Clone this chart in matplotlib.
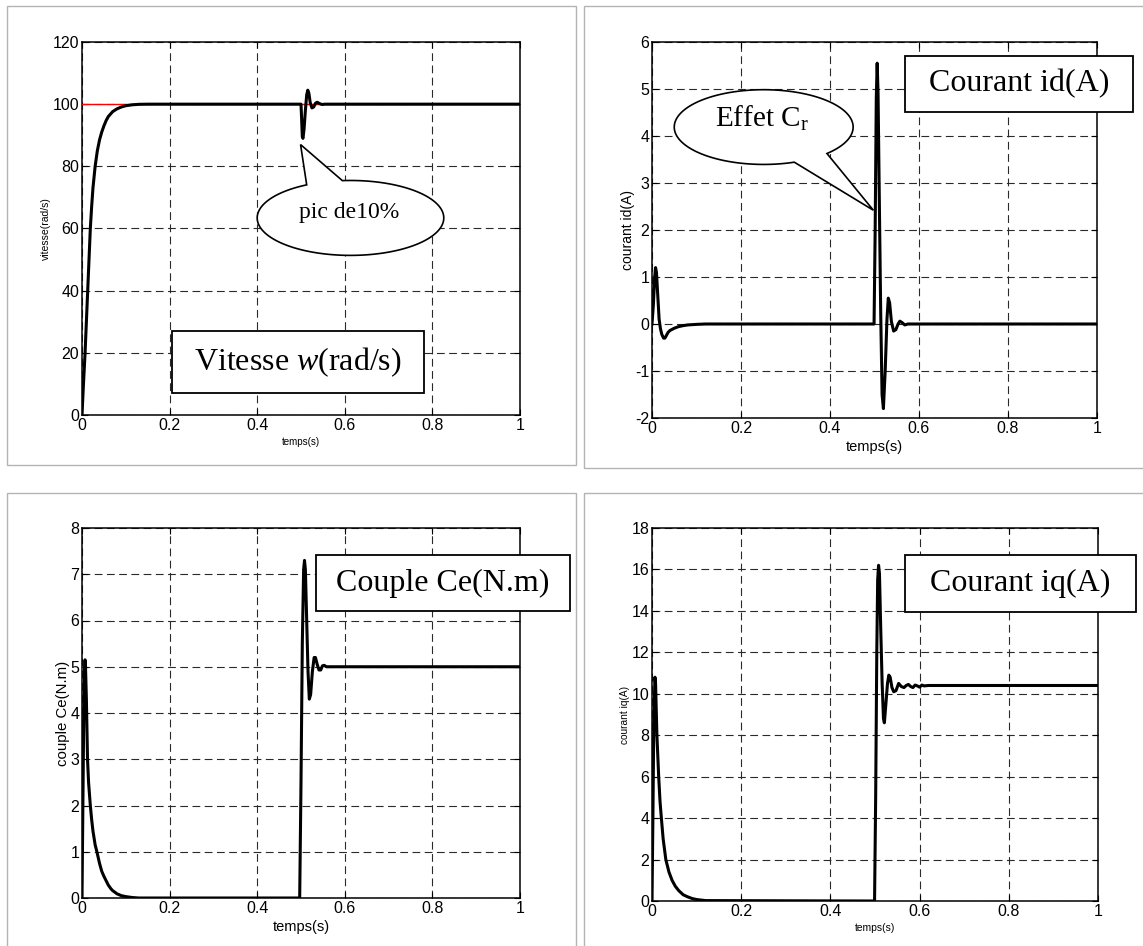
import numpy as np
import matplotlib
matplotlib.use("Agg")
import matplotlib.pyplot as plt
from matplotlib.patches import Rectangle, Polygon

plt.rcParams['font.family'] = ['Liberation Sans', 'DejaVu Sans']
plt.rcParams['mathtext.fontset'] = 'custom'
plt.rcParams['mathtext.rm'] = 'Liberation Serif'
plt.rcParams['mathtext.it'] = 'Liberation Serif:italic'

# simulation results (time in s)
t_w = [0, 0.003, 0.007, 0.010, 0.013, 0.016, 0.019, 0.022, 0.025, 0.03, 0.035,
       0.04, 0.045, 0.05, 0.055, 0.06, 0.07, 0.08, 0.09, 0.1, 0.115, 0.13, 0.15,
       0.5, 0.5015, 0.503, 0.5045, 0.507, 0.51, 0.513, 0.5155, 0.518, 0.521,
       0.525, 0.529, 0.533, 0.537, 0.542, 0.548, 0.555, 1.0]
vitesse = [0, 9, 20, 30, 40, 50, 60, 67, 73, 80, 85, 88.5, 91, 93, 94.7, 96,
           97.6, 98.5, 99.1, 99.5, 99.8, 99.95, 100, 100, 95, 89.5, 89, 92, 98,
           103, 104.5, 103.5, 100.5, 98.8, 99.1, 100.3, 100.6, 100.2, 99.9, 100, 100]
t_ref = [0, 1.0]
vitesse_ref = [100, 100]

t_id = [0, 0.003, 0.006, 0.008, 0.010, 0.013, 0.016, 0.019, 0.022, 0.026, 0.029,
        0.032, 0.036, 0.04, 0.05, 0.06, 0.07, 0.08, 0.1, 0.12, 0.499, 0.5015,
        0.504, 0.506, 0.508, 0.511, 0.514, 0.517, 0.520, 0.524, 0.528, 0.531,
        0.534, 0.538, 0.543, 0.548, 0.553, 0.557, 0.562, 0.568, 0.575, 1.0]
courant_id = [0, 0.4, 1.0, 1.2, 1.1, 0.6, 0.1, -0.1, -0.22, -0.3, -0.3, -0.25,
              -0.18, -0.14, -0.09, -0.055, -0.035, -0.02, -0.008, 0, 0, 2.0, 4.8,
              5.55, 4.9, 2.5, 0.2, -1.5, -1.8, -1.0, 0.1, 0.55, 0.45, 0.05, -0.15,
              -0.12, 0.0, 0.06, 0.03, -0.02, 0, 0]

t_ce = [0, 0.002, 0.004, 0.006, 0.007, 0.008, 0.010, 0.0126, 0.015, 0.019, 0.022,
        0.025, 0.03, 0.034, 0.04, 0.045, 0.05, 0.06, 0.066, 0.07, 0.08, 0.09, 0.1,
        0.115, 0.13, 0.497, 0.5, 0.503, 0.506, 0.508, 0.510, 0.513, 0.516, 0.519,
        0.522, 0.526, 0.530, 0.533, 0.537, 0.541, 0.545, 0.549, 0.553, 0.558,
        0.565, 1.0]
couple = [0, 2.0, 4.0, 5.0, 5.15, 5.0, 4.3, 3.0, 2.5, 2.0, 1.7, 1.45, 1.15, 1.0,
          0.75, 0.58, 0.47, 0.28, 0.2, 0.16, 0.09, 0.05, 0.03, 0.01, 0, 0, 2.5,
          5.5, 7.1, 7.3, 7.1, 6.0, 4.9, 4.3, 4.4, 4.9, 5.2, 5.2, 5.05, 4.93, 4.93,
          5.02, 5.03, 5.0, 5.0, 5.0]

t_iq = [0, 0.002, 0.004, 0.0066, 0.008, 0.011, 0.015, 0.018, 0.021, 0.025, 0.031,
        0.038, 0.045, 0.052, 0.06, 0.07, 0.08, 0.09, 0.1, 0.12, 0.499, 0.5015,
        0.504, 0.506, 0.508, 0.510, 0.513, 0.516, 0.519, 0.521, 0.524, 0.528,
        0.531, 0.534, 0.538, 0.542, 0.547, 0.553, 0.559, 0.565, 0.57, 0.575, 0.58,
        0.585, 0.59, 0.595, 0.6, 0.605, 0.61, 0.62, 1.0]
courant_iq = [0, 4, 8.5, 10.8, 10.5, 8, 6, 4.8, 4, 3.0, 2.0, 1.4, 1.0, 0.72, 0.5,
              0.3, 0.2, 0.12, 0.07, 0.02, 0, 5, 12, 15.5, 16.2, 15.8, 13, 10.5,
              8.8, 8.6, 9.4, 10.5, 10.9, 10.8, 10.3, 10.1, 10.15, 10.5, 10.35,
              10.3, 10.4, 10.45, 10.35, 10.3, 10.42, 10.38, 10.32, 10.42, 10.38,
              10.4, 10.4]

x_ticks = [0, 0.2, 0.4, 0.6, 0.8, 1]
x_ticklabels = ["0", "0.2", "0.4", "0.6", "0.8", "1"]

W, H = 1143, 946
fig = plt.figure(figsize=(W / 100, H / 100), dpi=100)


def px_rect(x0, y0, x1, y1):
    # pixel box (top-left origin) -> figure fraction [l, b, w, h]
    return [x0 / W, 1 - y1 / H, (x1 - x0) / W, (y1 - y0) / H]


# grey frames around each plot
for (x0, y0, x1, y1) in [(7, 6, 576, 465), (584, 6, 1160, 468),
                         (7, 493, 576, 960), (584, 493, 1160, 960)]:
    l, b, w, h = px_rect(x0, y0, x1, y1)
    fig.add_artist(Rectangle((l, b), w, h, transform=fig.transFigure,
                             fill=False, edgecolor="#b4b4b4", linewidth=1.0))


def setup(ax, ylim, yticks, ylabel, ylabel_size, xlabel_size, ypad):
    ax.set_xlim(0, 1)
    ax.set_ylim(*ylim)
    ax.set_xticks(x_ticks)
    ax.set_xticklabels(x_ticklabels)
    ax.set_yticks(yticks)
    ax.set_yticklabels([str(v) for v in yticks])
    ax.tick_params(direction="in", length=4, width=0.8, top=True, right=True,
                   labelsize=11.5, pad=2)
    ax.grid(True, color="#2a2a2a", linestyle=(0, (7, 4)), linewidth=0.8)
    for s in ax.spines.values():
        s.set_linewidth(1.1)
    ax.set_ylabel(ylabel, fontsize=ylabel_size, labelpad=ypad)
    ax.set_xlabel("temps(s)", fontsize=xlabel_size, labelpad=3)


def framed_label(ax, x0, y0, x1, y1, text):
    ax.add_patch(Rectangle((x0, y0), x1 - x0, y1 - y0, facecolor="white",
                           edgecolor="black", linewidth=1.3, clip_on=False,
                           zorder=6))
    ax.text((x0 + x1) / 2, (y0 + y1) / 2, text, ha="center", va="center",
            fontsize=23, family="Liberation Serif", zorder=7, clip_on=False)


def bubble(ax, cx, cy, a, b, th_open0, th_open1, tip, text, tx, ty, size):
    # ellipse outline opened between two angles, closed through the tip
    th = np.radians(np.linspace(th_open1, th_open0 + 360, 200))
    xs = list(cx + a * np.cos(th)) + [tip[0]]
    ys = list(cy + b * np.sin(th)) + [tip[1]]
    ax.add_patch(Polygon(np.column_stack([xs, ys]), closed=True,
                         facecolor="white", edgecolor="black", linewidth=1.2,
                         zorder=6))
    ax.text(tx, ty, text, ha="center", va="center", fontsize=size,
            family="Liberation Serif", zorder=7)


# vitesse
ax1 = fig.add_axes(px_rect(82, 42, 520, 415))
ax1.plot(t_ref, vitesse_ref, color="red", linewidth=1.0, zorder=3)
ax1.plot(t_w, vitesse, color="black", linewidth=2.2, zorder=4)
setup(ax1, (0, 120), list(range(0, 121, 20)), "vitesse(rad/s)", 7.5, 7, 1)
bubble(ax1, 0.613, 63.4, 0.213, 12.05, 95, 118, (0.499, 87),
       "pic de10%", 0.61, 65, 17)
framed_label(ax1, 0.205, 7, 0.781, 27, "Vitesse $\\mathit{w}$(rad/s)")

# courant id
ax2 = fig.add_axes(px_rect(652, 42, 1097, 418))
ax2.plot(t_id, courant_id, color="black", linewidth=2.2, zorder=4)
setup(ax2, (-2, 6), list(range(-2, 7)), "courant id(A)", 10, 10.5, 0)
bubble(ax2, 0.251, 4.19, 0.201, 0.795, -70, -45, (0.4975, 2.42),
       "Effet C$_\\mathregular{r}$", 0.248, 4.37, 21)
framed_label(ax2, 0.568, 4.52, 1.081, 5.70, "Courant id(A)")

# couple
ax3 = fig.add_axes(px_rect(82, 528, 520, 898))
ax3.plot(t_ce, couple, color="black", linewidth=2.2, zorder=4)
setup(ax3, (0, 8), list(range(0, 9)), "couple Ce(N.m)", 10.8, 10.5, 0)
framed_label(ax3, 0.534, 6.20, 1.115, 7.42, "Couple Ce(N.m)")

# courant iq
ax4 = fig.add_axes(px_rect(652, 528, 1098, 901))
ax4.plot(t_iq, courant_iq, color="black", linewidth=2.2, zorder=4)
setup(ax4, (0, 18), list(range(0, 19, 2)), "courant iq(A)", 7.3, 7.4, 1)
framed_label(ax4, 0.568, 13.94, 1.085, 16.68, "Courant iq(A)")

fig.savefig("out.png", dpi=100)
